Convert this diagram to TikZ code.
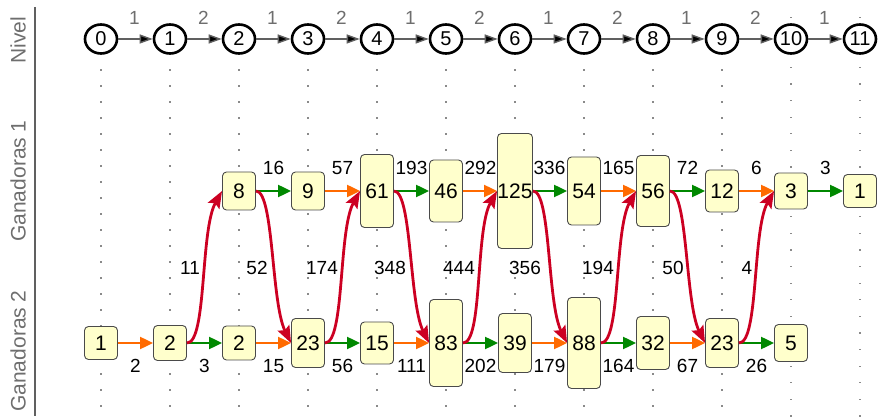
\documentclass[tikz,border=0pt]{standalone}
\usepackage{fontspec}
\setmainfont{Liberation Sans}
\usetikzlibrary{arrows.meta,shapes.geometric}
\definecolor{boxfill}{HTML}{FFFFCC}
\definecolor{boxline}{HTML}{4A4A4A}
\definecolor{org}{HTML}{FF6A00}
\definecolor{grn}{HTML}{008800}
\definecolor{rd}{HTML}{CC0022}
\definecolor{axisgray}{HTML}{6E6E6E}
\definecolor{dotgray}{HTML}{8A8A8A}
\definecolor{lvlline}{HTML}{606060}
\begin{document}
\begin{tikzpicture}[x=1pt,y=-1pt,
  box/.style={draw=boxline,line width=0.9pt,fill=boxfill,rounded corners=4pt,
    minimum width=33pt,inner sep=0pt,font=\fontsize{21}{21}\selectfont},
  lvl/.style={ellipse,draw=black,line width=2.6pt,fill=white,minimum width=32pt,
    minimum height=29pt,inner sep=0pt,font=\fontsize{20}{20}\selectfont},
  lvlarrow/.style={draw=lvlline,line width=1.4pt,-{Triangle[length=13pt,width=9pt,fill=black]}},
  harrow/.style={line width=2.2pt,-{Triangle[length=13pt,width=12pt]}},
  redarrow/.style={draw=rd,line width=2.8pt,-{Stealth[length=17pt,width=13pt,inset=3pt]}},
  elabel/.style={font=\fontsize{19}{19}\selectfont,text=black,inner sep=0pt},
  tlabel/.style={font=\fontsize{19}{19}\selectfont,text=axisgray,inner sep=0pt},
  axlabel/.style={font=\fontsize{21}{21}\selectfont,text=axisgray,rotate=90,inner sep=0pt}]
\useasboundingbox (0,0) rectangle (878,419);
% dotted column guides
\foreach \c in {0,...,9} {
  \foreach \k in {0,...,21} {
    \fill[dotgray] ({101+69*\c-0.6},{70+16*\k-0.6}) rectangle +(1.3,1.3);
  }
}
\foreach \c in {10,11} {
  \foreach \k in {0,...,24} {
    \fill[dotgray] ({101+69*\c-0.6},{17.6+16.6*\k-0.6}) rectangle +(1.3,1.3);
  }
}
% axis
\coordinate (axtop) at (35,7);
\coordinate (axbot) at (35,416);
\draw[draw=lvlline,line width=1.5pt] (axtop) -- (axbot);
\node[axlabel] (tNivel) at (18,40) {Nivel};
\node[axlabel] (tG1) at (18,181) {Ganadoras 1};
\node[axlabel] (tG2) at (18,351) {Ganadoras 2};
% level circles
\foreach \i in {0,...,11} {
  \node[lvl] (l\i) at ({101+69*\i},39) {\i};
}
\foreach \i/\j/\t in {0/1/1,1/2/2,2/3/1,3/4/2,4/5/1,5/6/2,6/7/1,7/8/2,8/9/1,9/10/2,10/11/1} {
  \draw[lvlarrow] (l\i) -- (l\j);
  \node[tlabel] (tl\i) at ({101+69*(\i+0.5)-1},18) {\t};
}
% row 1 boxes
\foreach \c/\t/\h in {2/8/38,3/9/38,4/61/73,5/46/62,6/125/115,7/54/68,8/56/71,9/12/42,10/3/36,11/1/33} {
  \node[box,minimum height=\h pt] (a\c) at ({101+69*\c},191) {\t};
}
% row 2 boxes
\foreach \c/\t/\h in {0/1/33,1/2/35,2/2/34,3/23/49,4/15/42,5/83/87,6/39/59,7/88/91,8/32/53,9/23/49,10/5/37} {
  \node[box,minimum height=\h pt] (b\c) at ({101+69*\c},343) {\t};
}
% row 1 arrows
\foreach \s/\e/\col/\lab in {2/3/grn/16,3/4/org/57,4/5/grn/193,5/6/org/292,6/7/grn/336,7/8/org/165,8/9/grn/72,9/10/org/6,10/11/grn/3} {
  \draw[harrow,draw=\col,fill=\col] (a\s.east) -- (a\e.west);
  \node[elabel] (ea\s) at ({101+69*(\s+0.5)},168) {\lab};
}
% row 2 arrows
\foreach \s/\e/\col/\lab in {0/1/org/2,1/2/grn/3,2/3/org/15,3/4/grn/56,4/5/org/111,5/6/grn/202,6/7/org/179,7/8/grn/164,8/9/org/67,9/10/grn/26} {
  \draw[harrow,draw=\col,fill=\col] (b\s.east) -- (b\e.west);
  \node[elabel] (eb\s) at ({101+69*(\s+0.5)},366) {\lab};
}
% red transitions up
\foreach \s/\e/\lab/\lx in {1/2/11/190,3/4/174/322,5/6/444/459,7/8/194/598,9/10/4/747} {
  \draw[redarrow] (b\s.east) .. controls +(20,0) and +(-22,39) .. (a\e.west);
  \node[elabel] (ru\s) at (\lx,268) {\lab};
}
% red transitions down
\foreach \s/\e/\lab/\lx in {2/3/52/257,4/5/348/390,6/7/356/525,8/9/50/673} {
  \draw[redarrow] (a\s.east) .. controls +(18,0) and +(-20,-40) .. (b\e.west);
  \node[elabel] (rd\s) at (\lx,268) {\lab};
}
\end{tikzpicture}
\end{document}
